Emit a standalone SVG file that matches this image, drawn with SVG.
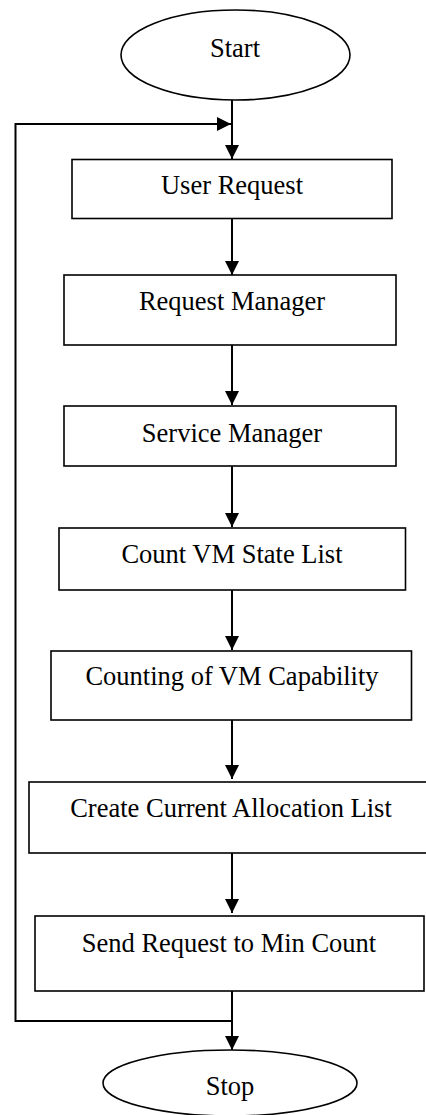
<svg xmlns="http://www.w3.org/2000/svg" width="426" height="1115" viewBox="0 0 426 1115">
<defs>
<marker id="ah" markerWidth="14" markerHeight="14" viewBox="0 0 14 14" refX="14" refY="7" orient="auto" markerUnits="userSpaceOnUse">
<path d="M0,0 L14,7 L0,14 Z" fill="#000"/>
</marker>
</defs>
<style>
.box{fill:#fff;stroke:#000;stroke-width:1.6}
.term{fill:#fff;stroke:#000;stroke-width:1.6}
.lbl{font-family:"Liberation Serif","Times New Roman",serif;font-size:26.5px;fill:#000;text-anchor:middle}
.conn{fill:none;stroke:#000;stroke-width:2}
</style>
<rect width="426" height="1115" fill="#fff"/>
<g id="connectors">
<line class="conn" x1="232" y1="100" x2="232" y2="159" marker-end="url(#ah)"/>
<polyline class="conn" points="232,1021 15.5,1021 15.5,124 231,124" marker-end="url(#ah)"/>
<line class="conn" x1="232" y1="218" x2="232" y2="275" marker-end="url(#ah)"/>
<line class="conn" x1="232" y1="345" x2="232" y2="405" marker-end="url(#ah)"/>
<line class="conn" x1="232" y1="466" x2="232" y2="527" marker-end="url(#ah)"/>
<line class="conn" x1="232" y1="590" x2="232" y2="650" marker-end="url(#ah)"/>
<line class="conn" x1="232" y1="720" x2="232" y2="779" marker-end="url(#ah)"/>
<line class="conn" x1="232" y1="853" x2="232" y2="913" marker-end="url(#ah)"/>
<line class="conn" x1="232" y1="991" x2="232" y2="1050" marker-end="url(#ah)"/>
</g>
<g id="start">
<ellipse class="term" cx="235.5" cy="55" rx="114.5" ry="45"/>
<text class="lbl" x="235" y="57">Start</text>
</g>
<g id="user-request">
<rect class="box" x="72" y="159.5" width="320" height="59"/>
<text class="lbl" x="232" y="194">User Request</text>
</g>
<g id="request-manager">
<rect class="box" x="64" y="275" width="332" height="70"/>
<text class="lbl" x="232" y="310">Request Manager</text>
</g>
<g id="service-manager">
<rect class="box" x="64" y="406" width="332" height="60"/>
<text class="lbl" x="232" y="442">Service Manager</text>
</g>
<g id="count-vm-state-list">
<rect class="box" x="59" y="528" width="346.5" height="62"/>
<text class="lbl" x="232" y="563">Count VM State List</text>
</g>
<g id="counting-vm-capability">
<rect class="box" x="51" y="651" width="360.5" height="69"/>
<text class="lbl" x="232" y="685">Counting of VM Capability</text>
</g>
<g id="create-current-allocation-list">
<rect class="box" x="29" y="782" width="400" height="71"/>
<text class="lbl" x="231" y="817">Create Current Allocation List</text>
</g>
<g id="send-request">
<rect class="box" x="35" y="916" width="389" height="75"/>
<text class="lbl" x="229" y="952">Send Request to Min Count</text>
</g>
<g id="stop">
<ellipse class="term" cx="230" cy="1083" rx="127" ry="33"/>
<text class="lbl" x="230" y="1095">Stop</text>
</g>
</svg>
